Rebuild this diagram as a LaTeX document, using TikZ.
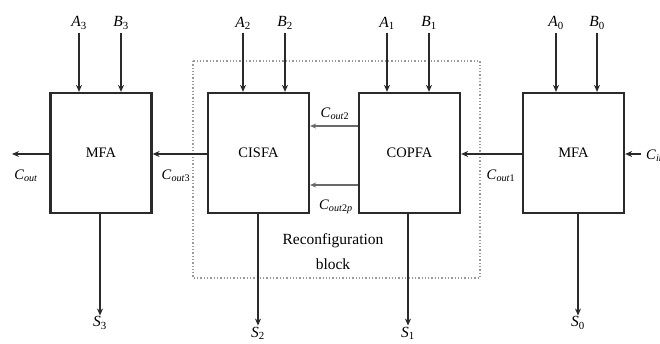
\documentclass[tikz,border=0pt]{standalone}
\usepackage{fontspec}
\setmainfont{Liberation Serif}
\usetikzlibrary{arrows.meta}
\definecolor{ln}{HTML}{2A2A2A}
\newcommand{\lbl}[2]{\textit{#1}\textsubscript{#2}}
\begin{document}
\begin{tikzpicture}[x=1pt,y=-1pt,
  blk/.style={draw=ln,line width=2.2pt,minimum width=101pt,minimum height=120pt,inner sep=0pt,font=\fontsize{14.5}{16}\selectfont},
  arr/.style={draw=ln,line width=2.4pt,-{Stealth[length=7pt,width=6pt]}},
  thin/.style={draw=ln!70,line width=1.5pt,-{Stealth[length=6pt,width=5pt]}},
  txt/.style={inner sep=1pt,font=\fontsize{15.5}{17}\selectfont},
  sm/.style={inner sep=1pt,font=\fontsize{14.5}{15}\selectfont}]
\useasboundingbox (0,0) rectangle (660,344);
\fill[white] (0,0) rectangle (660,344);
% reconfiguration block
\draw[gray!80,line width=1.3pt,dotted] (193,61) rectangle (480,278);
% blocks
\node[blk] (m3) at (101,153) {MFA};
\node[blk] (m2) at (258.5,153) {CISFA};
\node[blk] (m1) at (409.5,153) {COPFA};
\node[blk] (m0) at (573.5,153) {MFA};
% inputs
\node[txt] (A3) at (79,23) {\lbl{A}{3}};
\node[txt] (B3) at (121,23) {\lbl{B}{3}};
\node[txt] (A2) at (243,23) {\lbl{A}{2}};
\node[txt] (B2) at (285,23) {\lbl{B}{2}};
\node[txt] (A1) at (387,23) {\lbl{A}{1}};
\node[txt] (B1) at (429,23) {\lbl{B}{1}};
\node[txt] (A0) at (556,23) {\lbl{A}{0}};
\node[txt] (B0) at (597,23) {\lbl{B}{0}};
\foreach \n/\m in {A3/m3,B3/m3,A2/m2,B2/m2,A1/m1,B1/m1,A0/m0,B0/m0}
  \draw[arr] (\n.south) ++(0,3) -- (\n.south |- \m.north);
% sums
\node[txt] (S3) at (100,323) {\lbl{S}{3}};
\node[txt] (S2) at (258,333) {\lbl{S}{2}};
\node[txt] (S1) at (408,333) {\lbl{S}{1}};
\node[txt] (S0) at (578,323) {\lbl{S}{0}};
\foreach \n/\m in {S3/m3,S2/m2,S1/m1,S0/m0}
  \draw[arr] (\n.north |- \m.south) -- (\n.north);
% carries
\coordinate (coutend) at (12,154);
\coordinate (cinst) at (641,154);
\draw[arr] (m3.west |- 0,154) -- (coutend);
\draw[arr] (m2.west |- 0,154) -- (m3.east |- 0,154);
\draw[arr] (m0.west |- 0,154) -- (m1.east |- 0,154);
\draw[arr,line width=2pt] (cinst) -- (m0.east |- 0,154);
\draw[thin] (m1.west |- 0,126) -- (m2.east |- 0,126);
\draw[thin] (m1.west |- 0,185) -- (m2.east |- 0,185);
\node[sm] (cout) at (26,176) {\textit{C}\textsubscript{\textit{out}}};
\node[sm] (cout3) at (176,176) {\textit{C}\textsubscript{\textit{out}3}};
\node[sm] (cout1) at (501,176) {\textit{C}\textsubscript{\textit{out}1}};
\node[sm] (cout2) at (335,114) {\textit{C}\textsubscript{\textit{out}2}};
\node[sm] (cout2p) at (336,207) {\textit{C}\textsubscript{\textit{out}2\textit{p}}};
\node[sm,anchor=west] (cin) at (645,156) {\textit{C}\textsubscript{\textit{in}}};
\node[txt] (rc) at (333,241) {Reconfiguration};
\node[txt] (bk) at (333,264) {block};
\end{tikzpicture}
\end{document}
